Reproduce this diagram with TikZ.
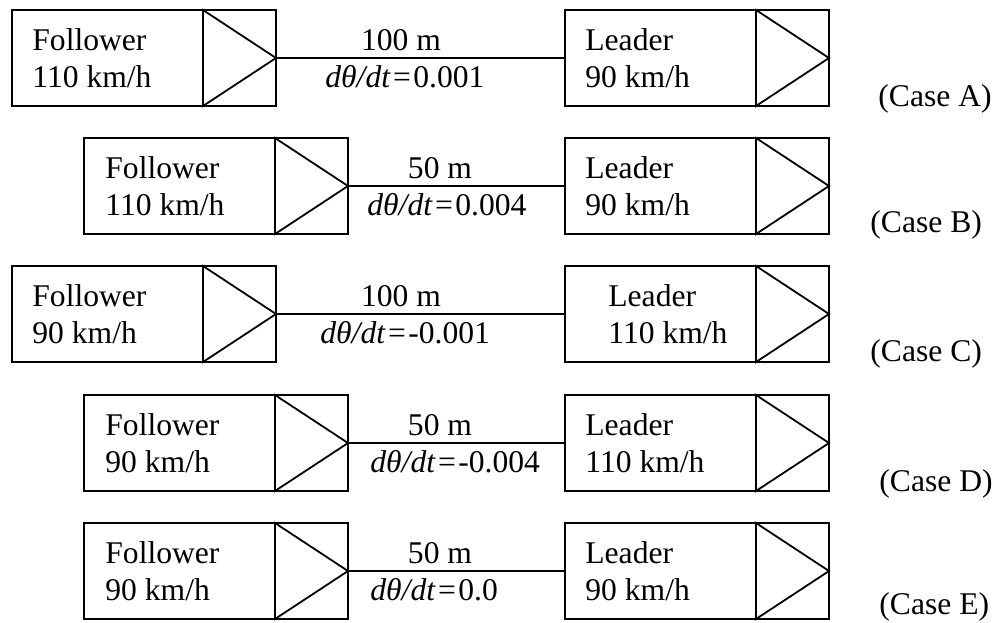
\documentclass[tikz,border=0pt]{standalone}
\usepackage{fontspec}
\setmainfont{Liberation Serif}
\tikzset{
  carbox/.style={draw, line width=0.9pt, rectangle, minimum width=132pt, minimum height=48pt, inner sep=0pt, outer sep=0pt, anchor=north west},
  txt/.style={anchor=base west, inner sep=0pt, font=\fontsize{15.8}{18}\selectfont},
  ctxt/.style={anchor=base, inner sep=0pt, font=\fontsize{15.8}{18}\selectfont},
  link/.style={line width=0.9pt},
}
\newcommand\drawcar[6]{%
  \node[carbox] (#1) at (#2,#3) {};
  \draw[link, line join=miter] ([xshift=95.5pt]#1.north west) -- (#1.east) -- ([xshift=95.5pt]#1.south west) -- cycle;
  \node[txt] (#1-a) at (#4,#3+40) {#5};
  \node[txt] (#1-b) at (#4,#3+77) {#6};
}
\newcommand\rateeq{\textit{dθ/dt}\kern1.2pt=\kern1.2pt}
\begin{document}
\begin{tikzpicture}[x=0.5pt,y=-0.5pt]
\useasboundingbox (0,0) rectangle (1000,622);
% Case A
\drawcar{fA}{12}{10}{32}{Follower}{110 km/h}
\drawcar{lA}{565}{10}{585}{Leader}{90 km/h}
\draw[link] (fA.east) -- (lA.west);
\node[ctxt] (dA) at (401,50) {100 m};
\node[txt] (rA) at (325,87) {\rateeq0.001};
\node[txt] (cA) at (878,106) {(Case A)};
% Case B
\drawcar{fB}{84}{138}{105}{Follower}{110 km/h}
\drawcar{lB}{565}{138}{585}{Leader}{90 km/h}
\draw[link] (fB.east) -- (lB.west);
\node[ctxt] (dB) at (440,178) {50 m};
\node[txt] (rB) at (367,215) {\rateeq0.004};
\node[txt] (cB) at (870,232) {(Case B)};
% Case C
\drawcar{fC}{12}{266}{32}{Follower}{90 km/h}
\drawcar{lC}{565}{266}{608}{Leader}{110 km/h}
\draw[link] (fC.east) -- (lC.west);
\node[ctxt] (dC) at (401,306) {100 m};
\node[txt] (rC) at (320,343) {\rateeq-0.001};
\node[txt] (cC) at (870,361) {(Case C)};
% Case D
\drawcar{fD}{84}{395}{105}{Follower}{90 km/h}
\drawcar{lD}{565}{395}{585}{Leader}{110 km/h}
\draw[link] (fD.east) -- (lD.west);
\node[ctxt] (dD) at (440,435) {50 m};
\node[txt] (rD) at (370,472) {\rateeq-0.004};
\node[txt] (cD) at (879,491) {(Case D)};
% Case E
\drawcar{fE}{84}{523}{105}{Follower}{90 km/h}
\drawcar{lE}{565}{523}{585}{Leader}{90 km/h}
\draw[link] (fE.east) -- (lE.west);
\node[ctxt] (dE) at (440,563) {50 m};
\node[txt] (rE) at (370,600) {\rateeq0.0};
\node[txt] (cE) at (879,614) {(Case E)};
\end{tikzpicture}
\end{document}
